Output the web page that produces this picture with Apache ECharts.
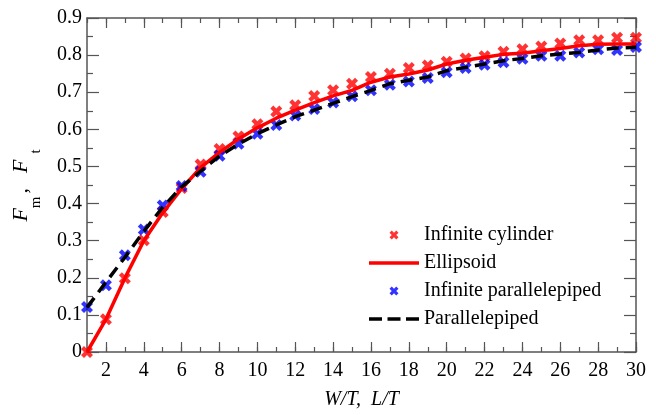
<!DOCTYPE html>
<html>
<head>
<meta charset="utf-8">
<script src="https://cdn.jsdelivr.net/npm/echarts@6/dist/echarts.min.js"></script>
<style>
html,body{margin:0;padding:0;background:#fff;}
#chart{width:656px;height:415px;}
</style>
</head>
<body>
<div id="chart"></div>
<script>
const xValues = [1,2,3,4,5,6,7,8,9,10,11,12,13,14,15,16,17,18,19,20,21,22,23,24,25,26,27,28,29,30];
const infiniteCylinder = [0.000,0.088,0.199,0.301,0.377,0.442,0.505,0.547,0.581,0.614,0.648,0.665,0.690,0.705,0.723,0.741,0.750,0.765,0.772,0.782,0.791,0.797,0.809,0.816,0.823,0.831,0.840,0.840,0.847,0.847];
const ellipsoid = [0.000,0.088,0.199,0.300,0.375,0.440,0.497,0.538,0.574,0.604,0.630,0.652,0.672,0.690,0.705,0.727,0.741,0.749,0.760,0.776,0.786,0.794,0.802,0.805,0.812,0.818,0.825,0.829,0.830,0.830];
const infiniteParallelepiped = [0.121,0.180,0.261,0.330,0.395,0.447,0.486,0.529,0.561,0.588,0.612,0.637,0.655,0.672,0.689,0.705,0.720,0.729,0.738,0.754,0.765,0.774,0.781,0.790,0.798,0.798,0.807,0.816,0.814,0.822];
const parallelepiped = [0.120,0.188,0.255,0.325,0.390,0.445,0.487,0.528,0.560,0.588,0.612,0.634,0.652,0.670,0.688,0.705,0.723,0.732,0.741,0.758,0.767,0.776,0.785,0.791,0.798,0.803,0.807,0.814,0.819,0.821];
const xMajorTicks = [2,4,6,8,10,12,14,16,18,20,22,24,26,28,30];
const seriesNames = ['Infinite cylinder','Ellipsoid','Infinite parallelepiped','Parallelepiped'];

const pair = arr => xValues.map((x, i) => [x, arr[i]]);
const FONT = 'Liberation Serif';
const AXIS_COLOR = '#555';
const CROSS = 'path://M0,2.5 L2.5,0 L5,2.5 L7.5,0 L10,2.5 L7.5,5 L10,7.5 L7.5,10 L5,7.5 L2.5,10 L0,7.5 L2.5,5 Z';
const SOLID_ICON = 'path://M0,0 H50 V3.5 H0 Z';
const DASH_ICON = 'path://M0,0 H13 V3.5 H0 Z M18.5,0 H31.5 V3.5 H18.5 Z M37,0 H50 V3.5 H37 Z';

function xAxisDef(position, major, withLabels, withLine) {
  return {
    type: 'value', position: position, min: 1, max: 30,
    interval: 1,
    axisLine: {show: withLine, lineStyle: {color: AXIS_COLOR, width: 1.5}},
    axisTick: major
      ? {show: true, inside: true, length: 10, customValues: xMajorTicks, lineStyle: {color: AXIS_COLOR, width: 1.2}}
      : {show: true, inside: true, length: 5, lineStyle: {color: AXIS_COLOR, width: 1.2}},
    axisLabel: withLabels
      ? {show: true, customValues: xMajorTicks, margin: 9, fontFamily: FONT, fontSize: 20, color: '#000'}
      : {show: false},
    splitLine: {show: false}
  };
}
function yAxisDef(position, withLabels) {
  return {
    type: 'value', position: position, min: 0, max: 0.9, interval: 0.1,
    axisLine: {show: true, lineStyle: {color: AXIS_COLOR, width: 1.5}},
    axisTick: {show: true, inside: true, length: 12, lineStyle: {color: AXIS_COLOR, width: 1.2}},
    minorTick: {show: true, splitNumber: 2, length: 6, lineStyle: {color: AXIS_COLOR, width: 1.2}},
    axisLabel: withLabels
      ? {show: true, margin: 5, padding: [4, 0, 0, 0], fontFamily: FONT, fontSize: 20, color: '#000',
         formatter: v => (Math.abs(v) < 1e-9 ? '0' : v.toFixed(1))}
      : {show: false},
    splitLine: {show: false}
  };
}

const xAxes = [
  xAxisDef('bottom', false, true, true),
  xAxisDef('bottom', true, false, false),
  xAxisDef('top', false, false, true),
  xAxisDef('top', true, false, false)
];
xAxes[0].name = 'W/T,  L/T';
xAxes[0].nameLocation = 'middle';
xAxes[0].nameGap = 38;
xAxes[0].nameTextStyle = {fontFamily: FONT, fontSize: 20, fontStyle: 'italic', color: '#000'};

const yAxes = [yAxisDef('left', true), yAxisDef('right', false)];
yAxes[0].name = '{i|F}{s|m}{c|,}{i|F}{t|t}{z| }';
yAxes[0].nameLocation = 'middle';
yAxes[0].nameRotate = 90;
yAxes[0].nameGap = 43;
yAxes[0].nameTextStyle = {
  color: '#000', fontFamily: FONT,
  rich: {
    i: {fontFamily: FONT, fontSize: 22, fontStyle: 'italic', color: '#000', lineHeight: 22, verticalAlign: 'top'},
    s: {fontFamily: FONT, fontSize: 15, color: '#000', lineHeight: 15, verticalAlign: 'bottom', padding: [0, 0, 0, 0]},
    t: {fontFamily: FONT, fontSize: 15, color: '#000', lineHeight: 15, verticalAlign: 'bottom', padding: [0, 0, 0, 6]},
    c: {fontFamily: FONT, fontSize: 22, color: '#000', lineHeight: 22, verticalAlign: 'top', padding: [0, 15, 0, 3]},
    z: {fontSize: 4, lineHeight: 34, verticalAlign: 'bottom'}
  }
};

const chart = echarts.init(document.getElementById('chart'), null, {renderer: 'canvas'});
chart.setOption({
  animation: false,
  backgroundColor: '#fff',
  grid: {left: 87, right: 20, top: 18, bottom: 58.5, containLabel: false},
  xAxis: xAxes,
  yAxis: yAxes,
  legend: {
    orient: 'vertical', left: 364, top: 220,
    itemWidth: 50, itemHeight: 9, itemGap: 8,
    textStyle: {fontFamily: FONT, fontSize: 20, color: '#000'},
    data: [
      {name: seriesNames[0]},
      {name: seriesNames[1], icon: SOLID_ICON},
      {name: seriesNames[2]},
      {name: seriesNames[3], icon: DASH_ICON}
    ]
  },
  series: [
    {name: seriesNames[0], type: 'scatter', data: pair(infiniteCylinder), symbol: CROSS, symbolSize: 12,
     symbolKeepAspect: true, itemStyle: {color: '#ff0000'}, z: 2},
    {name: seriesNames[1], type: 'line', data: pair(ellipsoid), symbol: 'none', smooth: false,
     lineStyle: {color: '#ff0000', width: 3.5}, itemStyle: {color: '#ff0000'}, z: 3},
    {name: seriesNames[2], type: 'scatter', data: pair(infiniteParallelepiped), symbol: CROSS, symbolSize: 12,
     symbolKeepAspect: true, itemStyle: {color: '#0000ff'}, z: 2},
    {name: seriesNames[3], type: 'line', data: pair(parallelepiped), symbol: 'none', smooth: false,
     lineStyle: {color: '#000', width: 3.5, type: [12, 7]}, itemStyle: {color: '#000'}, z: 4}
  ]
});
</script>
</body>
</html>
